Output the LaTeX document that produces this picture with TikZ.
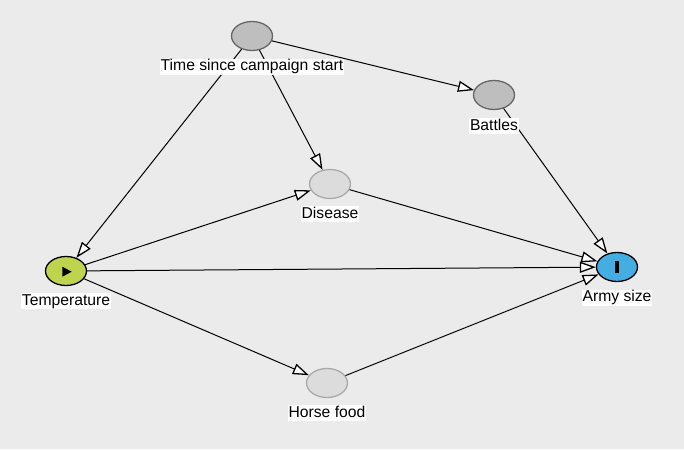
\documentclass[tikz,border=0pt]{standalone}
\usepackage{fontspec}
\setmainfont{Liberation Sans}
\usepackage{xcolor}
\usetikzlibrary{positioning, arrows.meta, shapes.geometric}

\definecolor{bgcol}{HTML}{EBEBEB}
\definecolor{latfill}{HTML}{BEBEBE}
\definecolor{latline}{HTML}{666666}
\definecolor{medfill}{HTML}{DCDCDC}
\definecolor{medline}{HTML}{A9A9A9}
\definecolor{expfill}{HTML}{BED44F}
\definecolor{outfill}{HTML}{44ADE2}

\begin{document}
\begin{tikzpicture}[x=1pt,y=-1pt,
    var/.style={ellipse, minimum width=41pt, minimum height=29pt, inner sep=0pt, line width=1.3pt},
    latent/.style={var, draw=latline, fill=latfill},
    other/.style={var, draw=medline, fill=medfill},
    exposure/.style={var, draw=black, fill=expfill},
    outcome/.style={var, draw=black, fill=outfill},
    tag/.style={fill=white, inner xsep=1pt, inner ysep=0.5pt, text height=11.5pt, text depth=3.5pt,
        font=\fontsize{15.7}{18}\selectfont},
    edge/.style={-{Triangle[length=16pt,width=11pt,fill=white,line width=1.3pt]}, line width=1pt}]
        % Background
        \fill[bgcol] (0,0) rectangle (684,449);
        \useasboundingbox (0,0) rectangle (684,449);

        % Nodes
        \node (time) [latent] at (252,36) {};
        \node (battles) [latent] at (494,95) {};
        \node (disease) [other] at (330,184) {};
        \node (temp) [exposure] at (66,271) {};
        \node (army) [outcome] at (617,267) {};
        \node (horse) [other] at (327,383) {};

        % Icons
        \fill (62.3,266.7) -- (71.7,271.7) -- (62.3,276.7) -- cycle;
        \fill (615,260.7) rectangle (619.3,273.3);

        % Arrows
        \draw[edge] (time) -- (temp);
        \draw[edge] (time) -- (disease);
        \draw[edge] (time) -- (battles);
        \draw[edge] (battles) -- (army);
        \draw[edge] (disease) -- (army);
        \draw[edge] (temp) -- (disease);
        \draw[edge] (temp) -- (army);
        \draw[edge] (temp) -- (horse);
        \draw[edge] (horse) -- (army);

        % Labels
        \node (timelbl) [tag, below=7.5pt of time] {Time since campaign start};
        \node (battleslbl) [tag, below=8pt of battles] {Battles};
        \node (diseaselbl) [tag, below=7pt of disease] {Disease};
        \node (templbl) [tag, below=7pt of temp] {Temperature};
        \node (armylbl) [tag, below=7.5pt of army] {Army size};
        \node (horselbl) [tag, below=7pt of horse] {Horse food};

    \end{tikzpicture}
\end{document}
